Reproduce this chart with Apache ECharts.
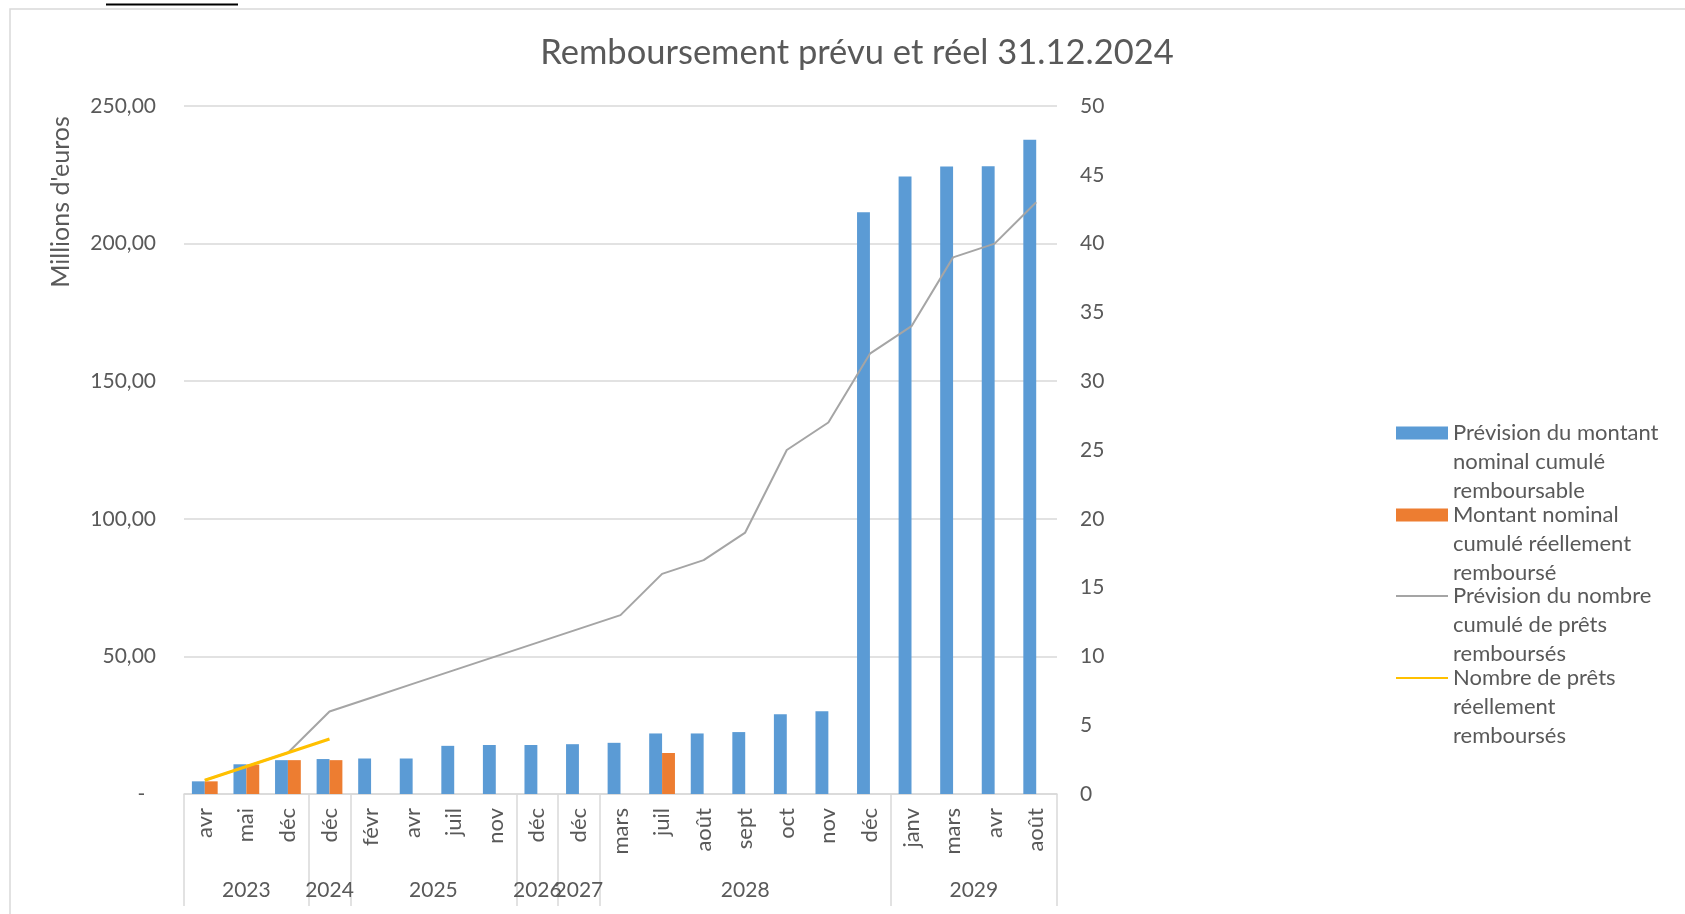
<!DOCTYPE html>
<html><head><meta charset="utf-8">
<script src="https://cdn.jsdelivr.net/npm/echarts@6/dist/echarts.min.js"></script>
<style>html,body{margin:0;padding:0;background:#fff}#c{width:1685px;height:914px}</style>
</head><body><div id="c"></div>
<script>
// ---- data ----
const months = ['avr','mai','déc','déc','févr','avr','juil','nov','déc','déc','mars','juil','août','sept','oct','nov','déc','janv','mars','avr','août'];
const years = ['2023','2024','2025','2026','2027','2028','2029'];
const yearCounts = [3,1,4,1,1,7,4];
const plannedAmount = [4.6,10.8,12.3,12.7,12.9,12.9,17.5,17.8,17.8,18.1,18.6,22.0,22.0,22.5,29.0,30.1,211.4,224.4,228.0,228.1,237.7];
const actualAmount = [4.6,10.7,12.3,12.3,null,null,null,null,null,null,null,14.9,null,null,null,null,null,null,null,null,null];
const plannedCount = [1,2,3,6,7,8,9,10,11,12,13,16,17,19,25,27,32,34,39,40,43];
const actualCount = [1,2,3,4,null,null,null,null,null,null,null,null,null,null,null,null,null,null,null,null,null];
const seriesNames = ['Prévision du montant nominal cumulé remboursable','Montant nominal cumulé réellement remboursé','Prévision du nombre cumulé de prêts remboursés','Nombre de prêts réellement remboursés'];
const legendLines = [
  ['Prévision du montant','nominal cumulé','remboursable'],
  ['Montant nominal','cumulé réellement','remboursé'],
  ['Prévision du nombre','cumulé de prêts','remboursés'],
  ['Nombre de prêts','réellement','remboursés']
];
const titleText = 'Remboursement prévu et réel 31.12.2024';
const leftAxisName = "Millions d'euros";

// ---- derived positions for year groups ----
const boundaries = [0];
yearCounts.forEach(c => boundaries.push(boundaries[boundaries.length-1] + c));
const yearCenters = years.map((y,i) => (boundaries[i] + boundaries[i+1]) / 2);

const FONT = 'Lato';
const TXT = '#595959';
const GRID = '#d9d9d9';
const colors = ['#5B9BD5','#ED7D31','#A5A5A5','#FFC000'];
const legendFirstLine = [433, 515, 596, 678];
const LH = 29;
const lineIcon = 'path://M0,0H52V2H0Z';

const chart = echarts.init(document.getElementById('c'));
chart.setOption({
  animation: false,
  backgroundColor: '#fff',
  graphic: [
    {type: 'rect', shape: {x: 10, y: 9, width: 1800, height: 1000}, style: {fill: 'none', stroke: GRID, lineWidth: 1.5}, silent: true},
    {type: 'line', shape: {x1: 106, y1: 4.5, x2: 238, y2: 4.5}, style: {stroke: '#000', lineWidth: 2}, silent: true},
    {type: 'text', x: 857, y: 53,
     style: {text: titleText, fontFamily: FONT, fontSize: 34.5, fill: TXT, align: 'center', verticalAlign: 'middle'}},
    {type: 'text', x: 61, y: 202, rotation: Math.PI/2,
     style: {text: leftAxisName, fontFamily: FONT, fontSize: 25, fill: TXT, align: 'center', verticalAlign: 'middle'}}
  ],
  legend: seriesNames.map((n, i) => ({
    data: [{name: n, icon: i < 2 ? 'rect' : lineIcon}],
    orient: 'vertical', left: 1396, top: legendFirstLine[i] - LH * 2.5, padding: 0,
    itemWidth: 52, itemHeight: 13, selectedMode: false,
    formatter: () => '\n\n' + legendLines[i].join('\n'),
    textStyle: {fontFamily: FONT, fontSize: 22, color: TXT, lineHeight: LH}
  })),
  grid: {left: 184, right: 628, top: 106, bottom: 120, containLabel: false},
  xAxis: [
    {type: 'category', data: months, position: 'bottom',
     axisLine: {show: true, lineStyle: {color: GRID, width: 1.5}},
     axisTick: {show: false},
     axisLabel: {interval: 0, rotate: 90, margin: 14, fontFamily: FONT, fontSize: 22, color: TXT}},
    {type: 'value', min: 0, max: months.length, position: 'bottom',
     axisLine: {show: false}, splitLine: {show: false},
     axisTick: {show: true, inside: false, length: 112, customValues: boundaries, lineStyle: {color: GRID, width: 1.5}},
     axisLabel: {show: true, margin: 86, customValues: yearCenters, fontFamily: FONT, fontSize: 21, color: TXT,
       formatter: v => { const k = yearCenters.indexOf(v); return k >= 0 ? years[k] : ''; }}}
  ],
  yAxis: [
    {type: 'value', min: 0, max: 250, interval: 50, position: 'left',
     axisLine: {show: false}, axisTick: {show: false},
     splitLine: {show: true, lineStyle: {color: GRID, width: 1.5}},
     axisLabel: {margin: 28, fontFamily: FONT, fontSize: 21, color: TXT,
       formatter: v => v === 0 ? '-  ' : v.toFixed(2).replace('.', ',')}},
    {type: 'value', min: 0, max: 50, interval: 5, position: 'right',
     axisLine: {show: false}, axisTick: {show: false}, splitLine: {show: false},
     axisLabel: {margin: 23, fontFamily: FONT, fontSize: 21, color: TXT}}
  ],
  series: [
    {name: seriesNames[0], type: 'bar', data: plannedAmount, xAxisIndex: 0, yAxisIndex: 0,
     itemStyle: {color: colors[0]}, barGap: '0%', barCategoryGap: '38%'},
    {name: seriesNames[1], type: 'bar', data: actualAmount, xAxisIndex: 0, yAxisIndex: 0,
     itemStyle: {color: colors[1]}, barGap: '0%', barCategoryGap: '38%'},
    {name: seriesNames[2], type: 'line', data: plannedCount, xAxisIndex: 0, yAxisIndex: 1,
     symbol: 'none', lineStyle: {color: colors[2], width: 2}, itemStyle: {color: colors[2]}, z: 3},
    {name: seriesNames[3], type: 'line', data: actualCount, xAxisIndex: 0, yAxisIndex: 1,
     symbol: 'none', lineStyle: {color: colors[3], width: 3}, itemStyle: {color: colors[3]}, z: 4}
  ]
});
</script></body></html>
